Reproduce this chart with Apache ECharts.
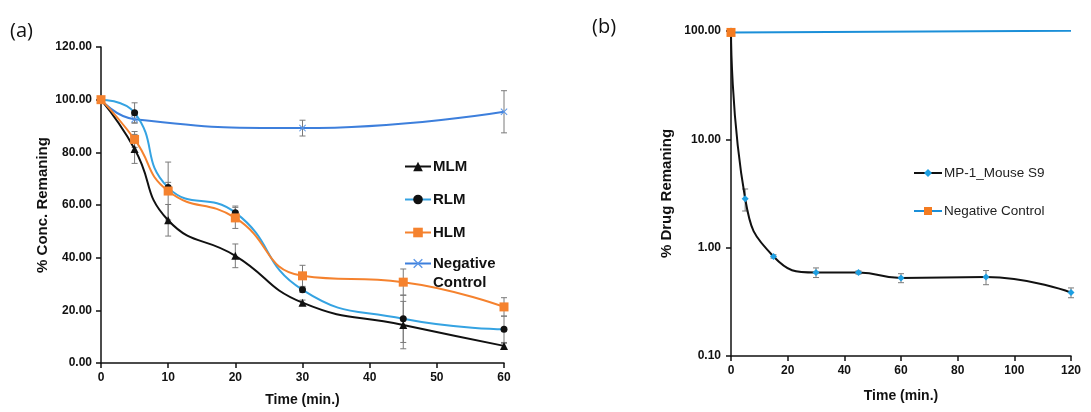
<!DOCTYPE html>
<html>
<head>
<meta charset="utf-8">
<script src="https://cdn.jsdelivr.net/npm/echarts@6/dist/echarts.min.js"></script>
<style>html,body{margin:0;padding:0;background:#fff}#c{width:1091px;height:412px}</style>
</head>
<body>
<div id="c"></div>
<script>
// ---- Panel (a) data ----
const timeA = [0, 5, 10, 20, 30, 45, 60];
const mlm = [100, 81.3, 54.2, 40.7, 22.9, 14.4, 6.5];
const mlmErr = [0, 5.5, 6.0, 4.5, 1.0, 9.0, 1.0];
const rlm = [100, 95.0, 66.6, 57.1, 27.8, 16.8, 12.8];
const rlmErr = [0, 3.8, 2.0, 2.5, 1.0, 9.0, 5.0];
const hlm = [100, 84.9, 65.3, 55.1, 33.1, 30.7, 21.3];
const hlmErr = [0, 3.0, 11.0, 4.0, 4.0, 5.0, 3.5];
const timeNegA = [0, 5, 30, 60];
const negA = [100, 92.6, 89.2, 95.4];
const negAErr = [0, 1.5, 3.0, 8.0];
const ticksA_Y = [0, 120, 20];
const ticksA_X = [0, 60, 10];

// ---- Panel (b) data ----
const timeB = [0, 5, 15, 30, 45, 60, 90, 120];
const mp1 = [100, 2.83, 0.83, 0.59, 0.59, 0.525, 0.535, 0.385];
const mp1Err = [0, 0.65, 0.03, 0.06, 0.02, 0.05, 0.08, 0.04];
const timeNegB = [0, 120];
const negB = [97, 100.5];
const ticksB_Y = [0.1, 100];
const ticksB_X = [0, 120, 20];

function pairs(xs, ys) { return xs.map((x, i) => [x, ys[i]]); }
function errs(xs, ys, es) {
  return xs.map((x, i) => [x, ys[i] - es[i], ys[i] + es[i]]).filter((d, i) => es[i] > 0);
}
function errRender(params, api) {
  const x = api.value(0), lo = api.value(1), hi = api.value(2);
  const p1 = api.coord([x, hi]), p2 = api.coord([x, lo]);
  const w = 3;
  const st = { stroke: '#7a7a7a', lineWidth: 1 };
  return {
    type: 'group',
    children: [
      { type: 'line', shape: { x1: p1[0], y1: p1[1], x2: p2[0], y2: p2[1] }, style: st },
      { type: 'line', shape: { x1: p1[0] - w, y1: p1[1], x2: p1[0] + w, y2: p1[1] }, style: st },
      { type: 'line', shape: { x1: p2[0] - w, y1: p2[1], x2: p2[0] + w, y2: p2[1] }, style: st }
    ]
  };
}
const xSym = 'path://M0,1L1,0L5,4L9,0L10,1L6,5L10,9L9,10L5,6L1,10L0,9L4,5Z';
const boldFont = 'Liberation Sans';

const axisCommon = {
  axisLine: { show: true, lineStyle: { color: '#111', width: 1.5 } },
  axisTick: { show: true, inside: false, length: 5, lineStyle: { color: '#111', width: 1.5 } },
  splitLine: { show: false },
  nameLocation: 'middle',
  nameTextStyle: { fontFamily: boldFont, fontWeight: 'bold', color: '#111' }
};
const legendTextA = { fontFamily: boldFont, fontWeight: 'bold', fontSize: 15, color: '#111', padding: [0, 0, 0, -3] };

const chart = echarts.init(document.getElementById('c'), null, { renderer: 'canvas' });
chart.setOption({
  animation: false,
  backgroundColor: '#fff',
  graphic: [
    { type: 'text', left: 10, top: 21, style: { text: '(a)', font: '20px "Open Sans"', fill: '#111' } },
    { type: 'text', left: 592, top: 17, style: { text: '(b)', font: '20px "Open Sans"', fill: '#111' } }
  ],
  grid: [
    { left: 101, top: 47, width: 403, height: 319 },
    { left: 731, top: 31, width: 340, height: 325 }
  ],
  xAxis: [
    Object.assign({}, axisCommon, {
      gridIndex: 0, type: 'value', min: ticksA_X[0], max: ticksA_X[1], interval: ticksA_X[2],
      name: 'Time (min.)', nameGap: 30, nameTextStyle: Object.assign({}, axisCommon.nameTextStyle, { fontSize: 14 }),
      axisLabel: { margin: 9, fontFamily: boldFont, fontWeight: 'bold', fontSize: 12, color: '#111' }
    }),
    Object.assign({}, axisCommon, {
      gridIndex: 1, type: 'value', min: ticksB_X[0], max: ticksB_X[1], interval: ticksB_X[2],
      name: 'Time (min.)', nameGap: 33, nameTextStyle: Object.assign({}, axisCommon.nameTextStyle, { fontSize: 14 }),
      axisLabel: { margin: 9, fontFamily: boldFont, fontWeight: 'bold', fontSize: 12, color: '#111' }
    })
  ],
  yAxis: [
    Object.assign({}, axisCommon, {
      gridIndex: 0, type: 'value', min: ticksA_Y[0], max: ticksA_Y[1], interval: ticksA_Y[2],
      name: '% Conc. Remaning', nameGap: 51, nameTextStyle: Object.assign({}, axisCommon.nameTextStyle, { fontSize: 15 }),
      axisLabel: { margin: 9, fontFamily: boldFont, fontWeight: 'bold', fontSize: 12, color: '#111',
        formatter: v => v.toFixed(2) }
    }),
    Object.assign({}, axisCommon, {
      gridIndex: 1, type: 'log', logBase: 10, min: ticksB_Y[0], max: ticksB_Y[1],
      name: '% Drug Remaning', nameGap: 57, nameTextStyle: Object.assign({}, axisCommon.nameTextStyle, { fontSize: 15 }),
      axisLabel: { margin: 10, fontFamily: boldFont, fontWeight: 'bold', fontSize: 12, color: '#111',
        formatter: v => Number(v).toFixed(2) }
    })
  ],
  legend: [
    {
      left: 399, top: 154, orient: 'vertical', itemGap: 18, itemWidth: 26, itemHeight: 12,
      textStyle: legendTextA,
      data: ['MLM', 'RLM', 'HLM']
    },
    {
      left: 399, top: 230, orient: 'vertical', itemWidth: 26, itemHeight: 12,
      textStyle: Object.assign({}, legendTextA, { lineHeight: 19 }),
      formatter: n => '\u00a0\n' + 'Negative\nControl',
      data: ['Negative Control']
    },
    {
      left: 908, top: 161, orient: 'vertical', itemGap: 24, itemWidth: 28, itemHeight: 10,
      textStyle: { fontFamily: 'Liberation Sans', fontSize: 13.5, color: '#222', padding: [0, 0, 0, -3] },
      data: ['MP-1_Mouse S9', 'Negative Control ']
    }
  ],
  series: [
    // panel a
    { type: 'custom', xAxisIndex: 0, yAxisIndex: 0, renderItem: errRender, data: errs(timeA, mlm, mlmErr), z: 1, silent: true },
    { type: 'custom', xAxisIndex: 0, yAxisIndex: 0, renderItem: errRender, data: errs(timeA, rlm, rlmErr), z: 1, silent: true },
    { type: 'custom', xAxisIndex: 0, yAxisIndex: 0, renderItem: errRender, data: errs(timeA, hlm, hlmErr), z: 1, silent: true },
    { type: 'custom', xAxisIndex: 0, yAxisIndex: 0, renderItem: errRender, data: errs(timeNegA, negA, negAErr), z: 1, silent: true },
    { name: 'Negative Control', type: 'line', xAxisIndex: 0, yAxisIndex: 0, data: pairs(timeNegA, negA), smooth: 0.5,
      symbol: xSym, symbolSize: 7, lineStyle: { color: '#3d7fdc', width: 2 }, itemStyle: { color: '#5a95e6' }, z: 2 },
    { name: 'MLM', type: 'line', xAxisIndex: 0, yAxisIndex: 0, data: pairs(timeA, mlm), smooth: 0.5,
      symbol: 'triangle', symbolSize: 8, lineStyle: { color: '#111', width: 2 }, itemStyle: { color: '#111' }, z: 3 },
    { name: 'RLM', type: 'line', xAxisIndex: 0, yAxisIndex: 0, data: pairs(timeA, rlm), smooth: 0.5,
      symbol: 'circle', symbolSize: 7, lineStyle: { color: '#35a3e2', width: 2 }, itemStyle: { color: '#111' }, z: 4 },
    { name: 'HLM', type: 'line', xAxisIndex: 0, yAxisIndex: 0, data: pairs(timeA, hlm), smooth: 0.5,
      symbol: 'rect', symbolSize: 9, lineStyle: { color: '#f5822e', width: 2 }, itemStyle: { color: '#f5822e' }, z: 5 },
    // panel b
    { type: 'custom', xAxisIndex: 1, yAxisIndex: 1, renderItem: errRender, data: errs(timeB, mp1, mp1Err), z: 1, silent: true },
    { name: 'MP-1_Mouse S9', type: 'line', xAxisIndex: 1, yAxisIndex: 1, data: pairs(timeB, mp1), smooth: 0.5,
      symbol: 'diamond', symbolSize: 7, lineStyle: { color: '#111', width: 2 }, itemStyle: { color: '#1e9fe2' }, z: 3 },
    { name: 'Negative Control ', type: 'line', xAxisIndex: 1, yAxisIndex: 1, data: pairs(timeNegB, negB),
      symbol: 'rect', symbolSize: 9, lineStyle: { color: '#1b8fd8', width: 2 }, itemStyle: { color: '#f47b20' }, z: 4 }
  ]
});
</script>
</body>
</html>
